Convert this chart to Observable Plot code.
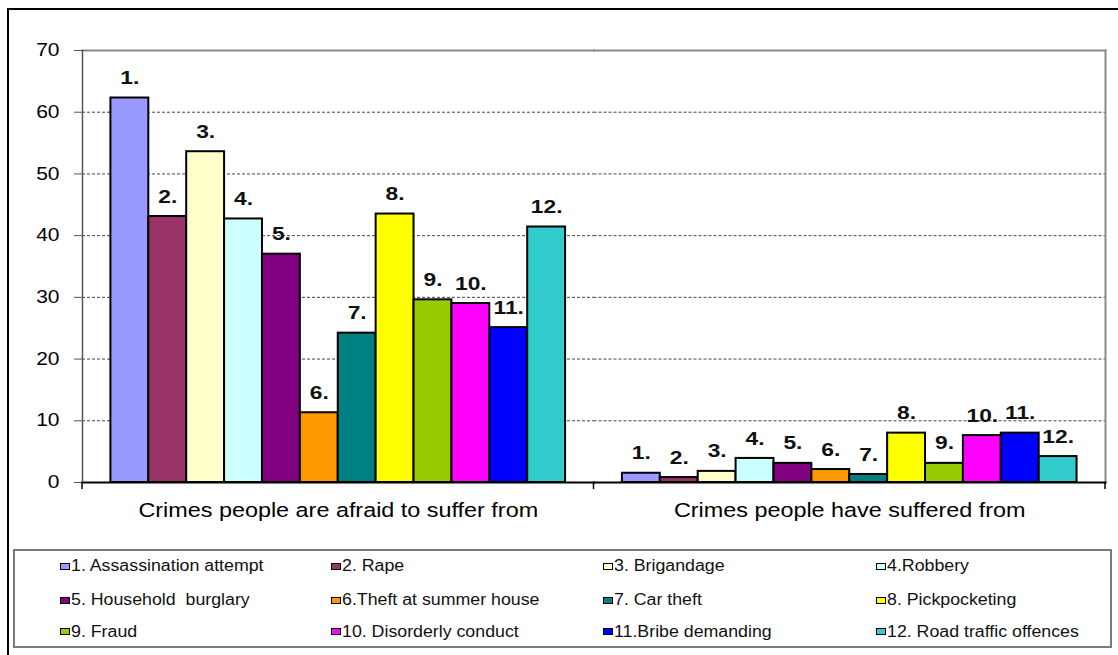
<!DOCTYPE html>
<html>
<head>
<meta charset="utf-8">
<script src="https://cdn.jsdelivr.net/npm/d3@7"></script>
<script src="https://cdn.jsdelivr.net/npm/@observablehq/plot@0.6"></script>
<style>
  html, body { margin: 0; padding: 0; background: #fff; overflow: hidden; width: 1118px; height: 655px; }
  #frame { position: absolute; left: 7px; top: 8px; width: 1200px; height: 700px; border-left: 2px solid #000; border-top: 2px solid #000; }
  #chart { position: absolute; left: 0; top: 0; }
  #legend { position: absolute; left: 13px; top: 549px; width: 1099px; height: 99px; border: 2px solid #7a7a7a; box-sizing: border-box; font-family: "Liberation Sans", Arial, sans-serif; font-size: 16px; line-height: 18px; color: #111; }
  .item { position: absolute; display: flex; align-items: center; white-space: pre; }
  .sw { width: 8px; height: 5px; border: 1.5px solid #000; margin-right: 1px; }
  .item span { display: inline-block; transform: scaleX(1.11); transform-origin: left center; }
</style>
</head>
<body>
<div id="frame"></div>
<div id="chart"></div>
<div id="legend"></div>
<script>
const groups = ["Crimes people are afraid to suffer from", "Crimes people have suffered from"];
const crimes = ["1. Assassination attempt", "2. Rape", "3. Brigandage", "4.Robbery",
  "5. Household  burglary", "6.Theft at summer house", "7. Car theft", "8. Pickpocketing",
  "9. Fraud", "10. Disorderly conduct", "11.Bribe demanding", "12. Road traffic offences"];
const barLabels = ["1.", "2.", "3.", "4.", "5.", "6.", "7.", "8.", "9.", "10.", "11.", "12."];
const afraid = [62.3, 43.1, 53.6, 42.7, 37.0, 11.3, 24.2, 43.5, 29.6, 29.0, 25.1, 41.4];
const suffered = [1.5, 0.8, 1.8, 3.9, 3.1, 2.1, 1.3, 8.0, 3.1, 7.6, 8.0, 4.2];
const colors = ["#9999ff", "#993366", "#ffffcc", "#ccffff", "#800080", "#ff9900",
  "#008080", "#ffff00", "#99cc00", "#ff00ff", "#0000ff", "#33cccc"];
const yTicks = [0, 10, 20, 30, 40, 50, 60, 70];
const gridTicks = [10, 20, 30, 40, 50, 60];

const data = [];
[afraid, suffered].forEach((vals, gi) => {
  vals.forEach((v, i) => data.push({group: groups[gi], crime: crimes[i], label: barLabels[i], value: v}));
});

const chart = Plot.plot({
  width: 1118,
  height: 530,
  marginLeft: 82,
  marginRight: 13,
  marginTop: 50,
  marginBottom: 48,
  style: {fontFamily: "'Liberation Sans', Arial, sans-serif", background: "transparent", color: "#000"},
  fx: {domain: groups, padding: 0, round: false, label: null},
  x: {domain: crimes, paddingInner: 0, paddingOuter: 0.75, round: false, axis: null},
  y: {domain: [0, 70], label: null},
  color: {domain: crimes, range: colors},
  marks: [
    Plot.ruleY(gridTicks, {stroke: "#444", strokeDasharray: "3,2", strokeWidth: 1}),
    Plot.frame({anchor: "top", stroke: "#8a8a8a", strokeWidth: 2}),
    Plot.frame({anchor: "right", stroke: "#8a8a8a", strokeWidth: 2, facetAnchor: "right"}),
    Plot.frame({anchor: "left", stroke: "#555", strokeWidth: 1.5, facetAnchor: "left"}),
    Plot.barY(data, {fx: "group", x: "crime", y: "value", fill: "crime", stroke: "#000", strokeWidth: 2}),
    Plot.frame({anchor: "bottom", stroke: "#000", strokeWidth: 2}),
    Plot.text(data, {fx: "group", x: "crime", y: "value", text: "label", dy: -20, fontWeight: "bold", fontSize: 19, fill: "#111"}),
    Plot.axisY({ticks: yTicks, tickSize: 8, tickPadding: 15, fontSize: 17.5, stroke: "#555", label: null}),
    Plot.axisFx({anchor: "bottom", tickSize: 0, tickPadding: 21, fontSize: 19.5, label: null})
  ]
});
document.getElementById("chart").appendChild(chart);

const svg = d3.select(chart.tagName.toLowerCase() === "svg" ? chart : chart.querySelector("svg"));

// the reference's lettering is drawn wide: stretch every text horizontally about its anchor
const S = 1.2;
svg.selectAll("text").each(function() {
  const t = d3.select(this);
  const tr = t.attr("transform");
  const x = +t.attr("x") || 0;
  const sc = `translate(${x},0) scale(${S},1) translate(${-x},0)`;
  t.attr("transform", tr ? tr + " " + sc : sc);
});

// category boundary ticks on the bottom axis, from the fx scale
const fx = chart.scale("fx");
const y = chart.scale("y");
const y0 = y.apply(0);
const edges = [fx.apply(groups[0])].concat(groups.map(g => fx.apply(g) + fx.bandwidth));
svg.append("g").selectAll("line").data(edges).join("line")
  .attr("x1", d => d).attr("x2", d => d)
  .attr("y1", y0).attr("y2", y0 + 7)
  .attr("stroke", "#000").attr("stroke-width", 1.5);

// legend
const legend = d3.select("#legend");
const colX = [45, 316, 588, 861];
const rowC = [15, 49, 80.5];
crimes.forEach((c, i) => {
  const it = legend.append("div").attr("class", "item")
    .style("left", colX[i % 4] + "px").style("top", (rowC[Math.floor(i / 4)] - 9) + "px");
  it.append("div").attr("class", "sw").style("background", colors[i]);
  it.append("span").text(c);
});
</script>
</body>
</html>
